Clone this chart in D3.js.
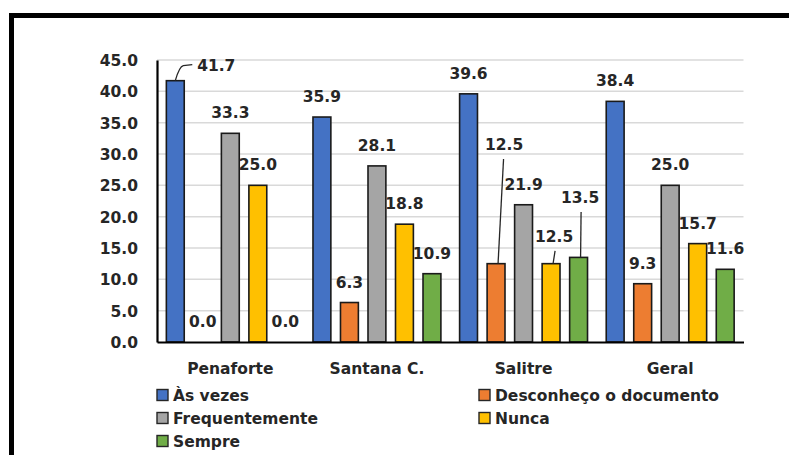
<!DOCTYPE html>
<html>
<head>
<meta charset="utf-8">
<script src="https://cdn.jsdelivr.net/npm/d3@7"></script>
<style>
  html, body { margin: 0; padding: 0; background: #fff; }
  svg { display: block; }
  text { font-family: "DejaVu Sans", Verdana, sans-serif; font-weight: bold; fill: #262626; }
</style>
</head>
<body>
<svg id="chart" width="789" height="455"></svg>
<script>
// ---- data ----
const categories = ["Penaforte", "Santana C.", "Salitre", "Geral"];
const seriesNames = ["Às vezes", "Desconheço o documento", "Frequentemente", "Nunca", "Sempre"];
const asVezes        = [41.7, 35.9, 39.6, 38.4];
const desconheco     = [0.0, 6.3, 12.5, 9.3];
const frequentemente = [33.3, 28.1, 21.9, 25.0];
const nunca          = [25.0, 18.8, 12.5, 15.7];
const sempre         = [0.0, 10.9, 13.5, 11.6];
const yTicks = [0, 5, 10, 15, 20, 25, 30, 35, 40, 45];

const seriesValues = [asVezes, desconheco, frequentemente, nunca, sempre];
const colors = ["#4472C4", "#ED7D31", "#A5A5A5", "#FFC000", "#70AD47"];

// label placement overrides (style only): key "series|category"
const labelPlace = {
  "0|0": { dx: 41, dy: -10, leader: "elbow" },
  "1|2": { dx: 8, dy: -113.7, leader: "line" },
  "3|2": { dx: 3, dy: -21.7, leader: "line" },
  "4|2": { dx: 1.5, dy: -54.4, leader: "line" }
};

const FS = "15.5px";
const svg = d3.select("#chart");
const W = 789, H = 455;
const plot = { left: 157, right: 743.5, top: 60, bottom: 342 };

// frame
svg.append("path")
  .attr("d", `M11.5,${H + 5} L11.5,15.5 L${W + 5},15.5`)
  .attr("fill", "none").attr("stroke", "#000").attr("stroke-width", 5);

const x0 = d3.scaleBand().domain(categories).range([plot.left, plot.right]).padding(0);
const x1 = d3.scaleBand().domain(d3.range(seriesNames.length))
  .range([0, x0.bandwidth()]).paddingInner(0.35).paddingOuter(0.34);
const y = d3.scaleLinear().domain([0, 45]).range([plot.bottom, plot.top]);

// gridlines
svg.append("g").selectAll("line").data(yTicks.filter(t => t > 0)).join("line")
  .attr("x1", plot.left).attr("x2", plot.right)
  .attr("y1", d => y(d)).attr("y2", d => y(d))
  .attr("stroke", "#d9d9d9").attr("stroke-width", 1.5);

// y axis
const yAxis = svg.append("g").attr("transform", `translate(${plot.left},0)`)
  .call(d3.axisLeft(y).tickValues(yTicks).tickFormat(d3.format(".1f")).tickSize(0).tickPadding(19));
yAxis.select(".domain").attr("stroke", "#000").attr("stroke-width", 2.2);
yAxis.selectAll("text").style("font-size", FS).attr("fill", "#262626").attr("dy", "0.36em");

// bars
const rows = [];
seriesValues.forEach((vals, s) => vals.forEach((v, c) => rows.push({ s, c, v })));

svg.append("g").selectAll("rect").data(rows).join("rect")
  .attr("x", d => x0(categories[d.c]) + x1(d.s))
  .attr("width", x1.bandwidth())
  .attr("y", d => y(d.v))
  .attr("height", d => y(0) - y(d.v))
  .attr("fill", d => colors[d.s])
  .attr("stroke", d => d.v > 0 ? "#1a1a1a" : "none")
  .attr("stroke-width", 1.6);

// x axis
const xAxis = svg.append("g").attr("transform", `translate(0,${plot.bottom})`)
  .call(d3.axisBottom(x0).tickSize(0).tickPadding(21));
xAxis.select(".domain").attr("stroke", "#000").attr("stroke-width", 2.2);
xAxis.selectAll("text").style("font-size", FS).attr("fill", "#262626");

// labels
const fmt = d3.format(".1f");
const lab = svg.append("g");
rows.forEach(d => {
  const cx = x0(categories[d.c]) + x1(d.s) + x1.bandwidth() / 2;
  const top = y(d.v);
  const p = labelPlace[d.s + "|" + d.c];
  const dx = p ? p.dx : 0;
  const dy = p ? p.dy : -15;
  lab.append("text")
    .attr("x", cx + dx).attr("y", top + dy)
    .attr("text-anchor", "middle")
    .style("font-size", FS)
    .text(fmt(d.v));
  if (p && p.leader === "elbow") {
    lab.append("path")
      .attr("d", `M${cx},${top} Q${cx + 4},${top - 14} ${cx + 8},${top - 15} L${cx + 17},${top - 16}`)
      .attr("fill", "none").attr("stroke", "#262626").attr("stroke-width", 1.3);
  } else if (p && p.leader === "line") {
    lab.append("line")
      .attr("x1", cx + 2).attr("y1", top)
      .attr("x2", cx + dx + (dx > 5 ? -0.5 : 1)).attr("y2", top + dy + 9)
      .attr("stroke", "#262626").attr("stroke-width", 1.3);
  }
});

// legend
const legendCols = [157, 479];
const legendRows = [395, 418, 441];
const leg = svg.append("g");
seriesNames.forEach((name, i) => {
  const lx = legendCols[i % 2], ly = legendRows[Math.floor(i / 2)];
  leg.append("rect").attr("x", lx).attr("y", ly - 5.5).attr("width", 11).attr("height", 11)
    .attr("fill", colors[i]).attr("stroke", "#262626").attr("stroke-width", 1.4);
  leg.append("text").attr("x", lx + 16).attr("y", ly).attr("dy", "0.36em")
    .style("font-size", FS).text(name);
});
</script>
</body>
</html>
